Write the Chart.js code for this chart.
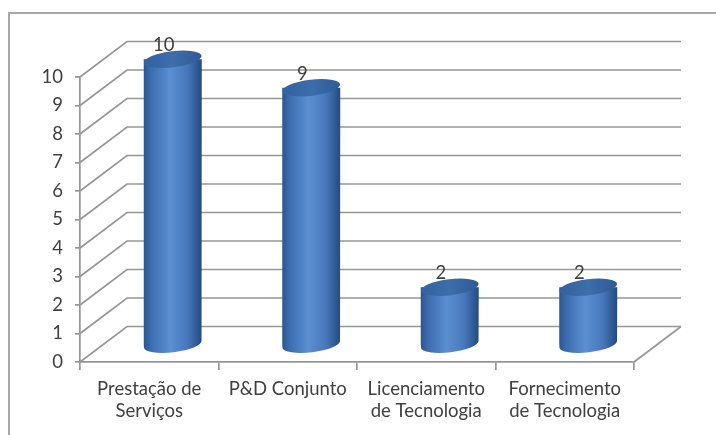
<!DOCTYPE html>
<html>
<head>
<meta charset="utf-8">
<script src="https://cdn.jsdelivr.net/npm/chart.js@4"></script>
<style>
html, body { margin: 0; padding: 0; background: #fff; overflow: hidden; }
#wrap { position: relative; width: 716px; height: 435px; }
</style>
</head>
<body>
<div id="wrap"><canvas id="chart" width="716" height="435"></canvas></div>
<script>
const categories = [["Prestação de", "Serviços"], "P&D Conjunto", ["Licenciamento", "de Tecnologia"], ["Fornecimento", "de Tecnologia"]];
const values = [10, 9, 2, 2];
const yMin = 0;
const yMax = 10;
const yStep = 1;

const GRID = "#969696";
const TEXT = "#404040";
const FONT = { family: "Lato, 'Open Sans', sans-serif", size: 18.5, lineHeight: 1.2 };

// 3d depth offset of the back wall
const DX = 47;
const DY = -35.5;

const wallsPlugin = {
    id: "walls",
    beforeDraw(chart) {
        const c = chart.ctx;
        c.save();
        c.strokeStyle = "#a8a8a8";
        c.lineWidth = 2;
        c.strokeRect(9, 13, 900, 600);
        c.restore();
    },
    beforeDatasetsDraw(chart) {
        const c = chart.ctx;
        const y = chart.scales.y;
        const left = chart.chartArea.left, right = chart.chartArea.right;
        c.save();
        c.strokeStyle = GRID;
        c.lineWidth = 1.7;
        for (let v = yMin; v <= yMax; v += yStep) {
            const py = y.getPixelForValue(v);
            c.beginPath();
            c.moveTo(left, py);
            c.lineTo(left + DX, py + DY);
            c.lineTo(right + DX, py + DY);
            c.stroke();
        }
        const p0 = y.getPixelForValue(0);
        c.beginPath();
        c.moveTo(right, p0);
        c.lineTo(right + DX, p0 + DY);
        c.stroke();
        c.restore();
    },
    afterDatasetsDraw(chart) {
        const c = chart.ctx;
        const x = chart.scales.x, y = chart.scales.y;
        const rx = 29, ry = 8, rot = -0.12;
        values.forEach((v, i) => {
            const cx = x.getPixelForValue(i) + DX / 2;
            const yTop = y.getPixelForValue(v) + DY / 2;
            const yBot = y.getPixelForValue(0) + DY / 2;
            c.save();
            const g = c.createLinearGradient(cx - rx, 0, cx + rx, 0);
            g.addColorStop(0, "#2a5590");
            g.addColorStop(0.12, "#3b6cae");
            g.addColorStop(0.45, "#5a8fd2");
            g.addColorStop(0.75, "#4878bb");
            g.addColorStop(1, "#234a82");
            c.beginPath();
            c.moveTo(cx - rx, yTop);
            c.lineTo(cx - rx, yBot);
            c.ellipse(cx, yBot, rx, ry, rot, Math.PI, 0, true);
            c.lineTo(cx + rx, yTop);
            c.closePath();
            c.fillStyle = g;
            c.fill();
            const gt = c.createLinearGradient(cx - rx, 0, cx + rx, 0);
            gt.addColorStop(0, "#3461a0");
            gt.addColorStop(0.5, "#3d6dab");
            gt.addColorStop(1, "#2f5a96");
            c.beginPath();
            c.ellipse(cx, yTop, rx, ry, rot, 0, Math.PI * 2);
            c.fillStyle = gt;
            c.fill();
            c.fillStyle = TEXT;
            c.font = FONT.size + "px " + FONT.family;
            c.textAlign = "center";
            c.textBaseline = "middle";
            c.fillText(String(v), cx - 9, yTop - 14);
            c.restore();
        });
    }
};

new Chart(document.getElementById("chart").getContext("2d"), {
    type: "bar",
    data: {
        labels: categories,
        datasets: [{
            data: values,
            backgroundColor: "rgba(0,0,0,0)",
            borderWidth: 0
        }]
    },
    options: {
        responsive: false,
        animation: false,
        layout: { padding: { top: 77, right: 82, left: 0, bottom: 0 } },
        plugins: { legend: { display: false }, tooltip: { enabled: false } },
        scales: {
            x: {
                grid: { offset: true, drawOnChartArea: false, drawTicks: true, tickLength: 8, color: GRID, lineWidth: 1.7 },
                border: { color: GRID, width: 1.7 },
                ticks: { padding: 8, font: FONT, color: TEXT, maxRotation: 0, autoSkip: false },
                afterFit(s) { s.height = 73; }
            },
            y: {
                min: yMin,
                max: yMax,
                grid: { drawOnChartArea: false, tickLength: 5, color: GRID, lineWidth: 1.7 },
                border: { color: GRID, width: 1.7 },
                ticks: { stepSize: yStep, padding: 12, font: FONT, color: TEXT },
                afterFit(s) { s.width = 80; }
            }
        }
    },
    plugins: [wallsPlugin]
});
</script>
</body>
</html>
